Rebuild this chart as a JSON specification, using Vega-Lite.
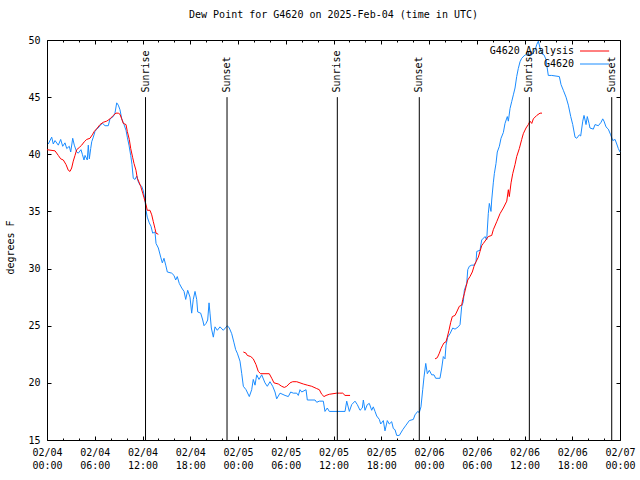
{
  "$schema": "https://vega.github.io/schema/vega-lite/v6.json",
  "width": 573,
  "height": 400,
  "autosize": {"type": "none"},
  "padding": {"left": 47, "top": 40, "right": 20, "bottom": 40},
  "background": "white",
  "title": {"text": "Dew Point for G4620 on 2025-Feb-04 (time in UTC)", "font": "DejaVu Sans Mono", "fontSize": 10, "fontWeight": "normal", "color": "black", "offset": 15, "anchor": "middle"},
  "config": {
    "view": {"stroke": "black", "strokeWidth": 1},
    "font": "DejaVu Sans Mono",
    "axis": {"grid": false, "domain": false, "tickColor": "black", "tickWidth": 1, "labelColor": "black", "labelFont": "DejaVu Sans Mono", "labelFontSize": 10, "titleFont": "DejaVu Sans Mono", "titleFontSize": 10, "titleFontWeight": "normal", "titleColor": "black"}
  },
  "datasets": {
    "obs": [
      {"h":0.16,"v":40.9},{"h":0.59,"v":41.5},{"h":0.79,"v":40.9},{"h":1.01,"v":41.2},{"h":1.42,"v":40.8},{"h":1.72,"v":41.3},{"h":1.97,"v":40.7},{"h":2.26,"v":41.0},{"h":2.48,"v":40.5},{"h":2.80,"v":40.7},{"h":2.98,"v":40.2},{"h":3.23,"v":41.4},{"h":3.43,"v":40.8},{"h":3.73,"v":40.2},{"h":3.93,"v":40.1},{"h":4.27,"v":40.4},{"h":4.44,"v":40.0},{"h":4.65,"v":39.5},{"h":4.78,"v":39.9},{"h":5.06,"v":39.5},{"h":5.19,"v":40.8},{"h":5.32,"v":39.6},{"h":5.49,"v":40.5},{"h":5.62,"v":41.1},{"h":5.82,"v":41.5},{"h":6.03,"v":42.0},{"h":6.25,"v":42.2},{"h":6.57,"v":42.4},{"h":6.75,"v":42.6},{"h":7.00,"v":42.7},{"h":7.29,"v":42.5},{"h":7.70,"v":42.5},{"h":7.92,"v":43.1},{"h":8.33,"v":43.3},{"h":8.54,"v":43.6},{"h":8.76,"v":44.5},{"h":8.96,"v":44.3},{"h":9.17,"v":43.9},{"h":9.39,"v":43.1},{"h":9.68,"v":42.6},{"h":9.93,"v":42.1},{"h":10.09,"v":41.5},{"h":10.30,"v":40.8},{"h":10.52,"v":39.9},{"h":10.68,"v":39.1},{"h":10.84,"v":37.9},{"h":11.06,"v":37.8},{"h":11.27,"v":38.1},{"h":11.47,"v":37.6},{"h":11.69,"v":37.3},{"h":11.90,"v":37.2},{"h":12.10,"v":36.8},{"h":12.31,"v":36.0},{"h":12.44,"v":35.1},{"h":12.60,"v":34.5},{"h":12.85,"v":34.0},{"h":13.07,"v":33.7},{"h":13.28,"v":33.1},{"h":13.57,"v":33.2},{"h":13.70,"v":32.2},{"h":13.99,"v":31.8},{"h":14.29,"v":31.0},{"h":14.49,"v":30.5},{"h":14.70,"v":30.9},{"h":14.92,"v":30.3},{"h":15.12,"v":29.7},{"h":15.67,"v":29.6},{"h":15.96,"v":29.4},{"h":16.17,"v":29.0},{"h":16.37,"v":29.3},{"h":16.62,"v":28.7},{"h":16.93,"v":28.3},{"h":17.22,"v":28.0},{"h":17.43,"v":27.3},{"h":17.68,"v":28.1},{"h":17.97,"v":27.5},{"h":18.18,"v":26.1},{"h":18.38,"v":27.3},{"h":18.60,"v":28.0},{"h":18.81,"v":27.3},{"h":18.94,"v":26.2},{"h":19.31,"v":26.1},{"h":19.57,"v":25.5},{"h":19.73,"v":25.0},{"h":19.98,"v":25.2},{"h":20.19,"v":25.5},{"h":20.36,"v":27.0},{"h":20.48,"v":26.1},{"h":20.65,"v":24.8},{"h":20.90,"v":24.0},{"h":21.11,"v":24.9},{"h":21.40,"v":24.6},{"h":21.74,"v":24.9},{"h":22.15,"v":24.6},{"h":22.66,"v":25.0},{"h":22.91,"v":24.8},{"h":23.21,"v":24.3},{"h":23.50,"v":23.5},{"h":23.71,"v":22.9},{"h":23.91,"v":22.6},{"h":24.25,"v":21.9},{"h":24.47,"v":20.8},{"h":24.67,"v":19.7},{"h":25.01,"v":19.4},{"h":25.42,"v":18.8},{"h":25.72,"v":19.4},{"h":25.92,"v":20.3},{"h":26.14,"v":19.8},{"h":26.35,"v":20.7},{"h":26.64,"v":20.3},{"h":26.98,"v":20.7},{"h":27.39,"v":20.0},{"h":27.68,"v":19.7},{"h":28.02,"v":20.1},{"h":28.36,"v":19.7},{"h":28.65,"v":19.2},{"h":28.86,"v":18.6},{"h":29.28,"v":19.1},{"h":29.91,"v":18.9},{"h":30.32,"v":18.8},{"h":30.62,"v":19.2},{"h":30.95,"v":19.1},{"h":31.38,"v":19.1},{"h":31.58,"v":18.9},{"h":31.79,"v":19.4},{"h":32.01,"v":19.2},{"h":32.55,"v":19.4},{"h":32.71,"v":18.5},{"h":33.68,"v":18.5},{"h":33.89,"v":18.3},{"h":34.22,"v":18.4},{"h":34.72,"v":18.4},{"h":34.93,"v":17.5},{"h":35.22,"v":17.8},{"h":35.47,"v":17.5},{"h":37.45,"v":17.5},{"h":37.66,"v":18.4},{"h":37.99,"v":17.5},{"h":38.29,"v":18.1},{"h":38.70,"v":18.4},{"h":38.99,"v":18.1},{"h":39.33,"v":17.6},{"h":39.62,"v":17.8},{"h":39.75,"v":18.5},{"h":39.96,"v":17.6},{"h":40.25,"v":18.1},{"h":40.50,"v":18.2},{"h":40.80,"v":17.6},{"h":41.00,"v":17.9},{"h":41.22,"v":17.5},{"h":41.43,"v":17.1},{"h":41.76,"v":16.8},{"h":41.93,"v":16.4},{"h":42.26,"v":16.7},{"h":42.47,"v":15.8},{"h":42.76,"v":16.7},{"h":43.01,"v":16.4},{"h":43.31,"v":16.6},{"h":43.52,"v":16.0},{"h":43.73,"v":15.9},{"h":43.94,"v":15.4},{"h":44.27,"v":15.4},{"h":44.70,"v":15.9},{"h":45.11,"v":16.3},{"h":45.53,"v":16.7},{"h":46.03,"v":16.8},{"h":46.24,"v":17.2},{"h":46.58,"v":17.5},{"h":46.78,"v":17.4},{"h":46.99,"v":17.9},{"h":47.21,"v":19.4},{"h":47.37,"v":20.5},{"h":47.59,"v":21.7},{"h":47.79,"v":20.8},{"h":48.04,"v":21.1},{"h":48.34,"v":20.7},{"h":48.63,"v":20.7},{"h":48.84,"v":20.4},{"h":49.38,"v":20.4},{"h":49.60,"v":21.3},{"h":49.80,"v":22.3},{"h":50.01,"v":22.1},{"h":50.14,"v":23.3},{"h":50.35,"v":24.0},{"h":50.64,"v":24.3},{"h":50.98,"v":24.8},{"h":51.27,"v":24.7},{"h":51.68,"v":24.9},{"h":51.90,"v":25.1},{"h":52.11,"v":26.7},{"h":52.31,"v":27.1},{"h":52.44,"v":28.1},{"h":52.74,"v":28.7},{"h":52.87,"v":29.9},{"h":53.07,"v":30.2},{"h":53.37,"v":30.3},{"h":53.66,"v":30.3},{"h":53.91,"v":30.6},{"h":54.00,"v":31.5},{"h":54.41,"v":31.6},{"h":54.62,"v":32.5},{"h":55.04,"v":32.8},{"h":55.25,"v":32.5},{"h":55.45,"v":34.8},{"h":55.58,"v":35.7},{"h":55.79,"v":35.0},{"h":55.88,"v":36.0},{"h":56.08,"v":37.5},{"h":56.21,"v":38.3},{"h":56.42,"v":39.2},{"h":56.58,"v":40.2},{"h":56.84,"v":40.7},{"h":57.05,"v":41.4},{"h":57.34,"v":41.9},{"h":57.55,"v":42.7},{"h":57.84,"v":43.3},{"h":57.97,"v":42.9},{"h":58.18,"v":44.0},{"h":58.39,"v":44.6},{"h":58.60,"v":45.2},{"h":58.81,"v":45.8},{"h":59.02,"v":46.8},{"h":59.22,"v":47.5},{"h":59.44,"v":48.1},{"h":59.65,"v":48.4},{"h":60.07,"v":48.7},{"h":60.91,"v":48.7},{"h":61.32,"v":49.1},{"h":61.54,"v":49.6},{"h":61.74,"v":49.9},{"h":61.95,"v":49.3},{"h":62.16,"v":48.8},{"h":62.45,"v":48.7},{"h":62.70,"v":48.3},{"h":62.99,"v":46.9},{"h":63.42,"v":46.9},{"h":64.38,"v":46.8},{"h":64.59,"v":46.1},{"h":64.88,"v":45.6},{"h":65.22,"v":45.0},{"h":65.51,"v":44.3},{"h":65.81,"v":43.3},{"h":66.06,"v":42.6},{"h":66.35,"v":41.5},{"h":66.56,"v":41.4},{"h":66.89,"v":41.7},{"h":67.06,"v":41.6},{"h":67.32,"v":42.9},{"h":67.48,"v":43.4},{"h":67.61,"v":43.0},{"h":67.73,"v":42.6},{"h":67.89,"v":43.3},{"h":68.11,"v":42.7},{"h":68.23,"v":42.3},{"h":68.65,"v":42.2},{"h":68.86,"v":42.6},{"h":69.28,"v":42.5},{"h":69.62,"v":42.8},{"h":69.83,"v":43.1},{"h":69.99,"v":42.9},{"h":70.24,"v":42.4},{"h":70.53,"v":42.2},{"h":70.83,"v":41.7},{"h":71.09,"v":41.2},{"h":71.38,"v":41.3},{"h":71.59,"v":40.9},{"h":71.79,"v":40.5},{"h":72.00,"v":40.2}
    ],
    "analysis": [
      {"seg":1,"h":0.00,"v":40.4},{"seg":1,"h":1.01,"v":40.3},{"seg":1,"h":1.42,"v":39.9},{"seg":1,"h":1.72,"v":39.6},{"seg":1,"h":2.05,"v":39.5},{"seg":1,"h":2.39,"v":39.1},{"seg":1,"h":2.68,"v":38.6},{"seg":1,"h":2.89,"v":38.5},{"seg":1,"h":3.10,"v":38.8},{"seg":1,"h":3.30,"v":39.4},{"seg":1,"h":3.52,"v":39.9},{"seg":1,"h":3.73,"v":40.4},{"seg":1,"h":4.06,"v":40.6},{"seg":1,"h":4.36,"v":40.8},{"seg":1,"h":4.69,"v":41.1},{"seg":1,"h":4.99,"v":41.3},{"seg":1,"h":5.40,"v":41.4},{"seg":1,"h":5.69,"v":41.7},{"seg":1,"h":5.94,"v":42.0},{"seg":1,"h":6.32,"v":42.3},{"seg":1,"h":6.66,"v":42.6},{"seg":1,"h":7.07,"v":42.8},{"seg":1,"h":7.50,"v":42.9},{"seg":1,"h":7.92,"v":43.1},{"seg":1,"h":8.33,"v":43.4},{"seg":1,"h":8.67,"v":43.6},{"seg":1,"h":8.96,"v":43.6},{"seg":1,"h":9.17,"v":43.5},{"seg":1,"h":9.39,"v":43.1},{"seg":1,"h":9.59,"v":42.7},{"seg":1,"h":9.93,"v":42.6},{"seg":1,"h":10.09,"v":42.0},{"seg":1,"h":10.34,"v":41.3},{"seg":1,"h":10.52,"v":40.5},{"seg":1,"h":10.77,"v":39.7},{"seg":1,"h":10.93,"v":39.2},{"seg":1,"h":11.18,"v":38.6},{"seg":1,"h":11.35,"v":37.9},{"seg":1,"h":11.60,"v":37.5},{"seg":1,"h":11.77,"v":37.2},{"seg":1,"h":12.03,"v":36.6},{"seg":1,"h":12.19,"v":36.2},{"seg":1,"h":12.44,"v":35.6},{"seg":1,"h":12.60,"v":35.1},{"seg":1,"h":12.94,"v":35.1},{"seg":1,"h":13.16,"v":34.7},{"seg":1,"h":13.36,"v":34.1},{"seg":1,"h":13.57,"v":33.5},{"seg":1,"h":13.70,"v":33.1},{"seg":1,"h":13.99,"v":33.0},
      {"seg":2,"h":24.67,"v":22.7},{"seg":2,"h":25.01,"v":22.6},{"seg":2,"h":25.17,"v":22.4},{"seg":2,"h":25.60,"v":22.3},{"seg":2,"h":25.92,"v":22.1},{"seg":2,"h":26.26,"v":21.6},{"seg":2,"h":26.55,"v":21.0},{"seg":2,"h":26.85,"v":20.8},{"seg":2,"h":27.93,"v":20.8},{"seg":2,"h":28.24,"v":20.4},{"seg":2,"h":28.52,"v":20.0},{"seg":2,"h":29.07,"v":19.9},{"seg":2,"h":29.49,"v":19.7},{"seg":2,"h":29.82,"v":19.6},{"seg":2,"h":30.12,"v":19.7},{"seg":2,"h":30.54,"v":20.0},{"seg":2,"h":30.87,"v":20.1},{"seg":2,"h":31.38,"v":20.1},{"seg":2,"h":31.79,"v":20.0},{"seg":2,"h":32.21,"v":19.9},{"seg":2,"h":32.71,"v":19.8},{"seg":2,"h":33.26,"v":19.7},{"seg":2,"h":33.89,"v":19.5},{"seg":2,"h":34.22,"v":19.4},{"seg":2,"h":34.52,"v":19.0},{"seg":2,"h":34.81,"v":18.8},{"seg":2,"h":35.06,"v":18.9},{"seg":2,"h":35.47,"v":19.0},{"seg":2,"h":36.40,"v":19.1},{"seg":2,"h":36.73,"v":19.1},{"seg":2,"h":37.16,"v":19.1},{"seg":2,"h":37.45,"v":18.9},{"seg":2,"h":38.08,"v":18.9},
      {"seg":3,"h":48.76,"v":22.1},{"seg":3,"h":49.04,"v":22.2},{"seg":3,"h":49.30,"v":22.6},{"seg":3,"h":49.51,"v":23.0},{"seg":3,"h":49.72,"v":23.3},{"seg":3,"h":49.89,"v":23.5},{"seg":3,"h":50.14,"v":23.6},{"seg":3,"h":50.30,"v":24.0},{"seg":3,"h":50.51,"v":24.6},{"seg":3,"h":50.73,"v":25.3},{"seg":3,"h":50.93,"v":25.8},{"seg":3,"h":51.27,"v":25.9},{"seg":3,"h":51.48,"v":26.2},{"seg":3,"h":51.81,"v":26.7},{"seg":3,"h":52.11,"v":26.8},{"seg":3,"h":52.24,"v":27.3},{"seg":3,"h":52.44,"v":27.8},{"seg":3,"h":52.65,"v":28.4},{"seg":3,"h":52.87,"v":29.0},{"seg":3,"h":53.15,"v":29.3},{"seg":3,"h":53.44,"v":29.7},{"seg":3,"h":53.66,"v":30.2},{"seg":3,"h":53.91,"v":30.6},{"seg":3,"h":54.20,"v":31.0},{"seg":3,"h":54.41,"v":31.5},{"seg":3,"h":54.62,"v":32.0},{"seg":3,"h":54.83,"v":32.2},{"seg":3,"h":55.45,"v":32.8},{"seg":3,"h":55.88,"v":32.9},{"seg":3,"h":56.08,"v":33.4},{"seg":3,"h":56.51,"v":34.1},{"seg":3,"h":56.92,"v":34.8},{"seg":3,"h":57.34,"v":35.3},{"seg":3,"h":57.77,"v":35.9},{"seg":3,"h":57.97,"v":36.9},{"seg":3,"h":58.09,"v":36.3},{"seg":3,"h":58.31,"v":37.5},{"seg":3,"h":58.52,"v":38.3},{"seg":3,"h":58.81,"v":39.1},{"seg":3,"h":59.02,"v":39.8},{"seg":3,"h":59.35,"v":40.5},{"seg":3,"h":59.65,"v":41.3},{"seg":3,"h":59.85,"v":41.8},{"seg":3,"h":60.19,"v":42.3},{"seg":3,"h":60.48,"v":42.6},{"seg":3,"h":60.69,"v":42.9},{"seg":3,"h":60.91,"v":42.7},{"seg":3,"h":61.11,"v":43.1},{"seg":3,"h":61.54,"v":43.4},{"seg":3,"h":61.95,"v":43.6},{"seg":3,"h":62.20,"v":43.6}
    ],
    "sun": [
      {"h":12.38,"event":"Sunrise"},{"h":22.62,"event":"Sunset"},{"h":36.48,"event":"Sunrise"},{"h":46.78,"event":"Sunset"},{"h":60.61,"event":"Sunrise"},{"h":70.96,"event":"Sunset"}
    ]
  },
  "layer": [
    {
      "data": {"name": "obs"},
      "mark": {"type": "line", "strokeWidth": 1},
      "encoding": {
        "x": {"field": "h", "type": "quantitative", "scale": {"domain": [0, 72], "nice": false, "zero": false},
              "axis": {"orient": "bottom", "title": null, "values": [0,6,12,18,24,30,36,42,48,54,60,66,72], "tickSize": -4, "labelPadding": 11, "labelBaseline": "top", "labelLineHeight": 13, "labelFlush": false, "labelOverlap": false,
                       "labelExpr": "['02/0' + (4 + floor(datum.value / 24)), (datum.value % 24 < 10 ? '0' : '') + (datum.value % 24) + ':00']"}},
        "y": {"field": "v", "type": "quantitative", "scale": {"domain": [15, 50], "nice": false, "zero": false},
              "axis": {"orient": "left", "title": "degrees F", "values": [15,20,25,30,35,40,45,50], "tickSize": -4, "labelPadding": 11, "labelFlush": false, "titleX": -37, "titleY": 207, "titleBaseline": "middle", "titleAlign": "center"}},
        "color": {"datum": "G4620", "type": "nominal",
                  "scale": {"domain": ["G4620 Analysis", "G4620"], "range": ["#ff0000", "#1a8cff"]},
                  "legend": {"orient": "none", "legendX": 542.6, "legendY": 6, "title": null, "symbolType": "M-5,0H5", "symbolSize": 34, "symbolStrokeWidth": 1, "symbolFillColor": "transparent", "symbolOpacity": 1, "labelAlign": "right", "labelOffset": -25.6, "labelFont": "DejaVu Sans Mono", "labelFontSize": 10, "labelColor": "black", "padding": 0, "rowPadding": 3}}
      }
    },
    {
      "data": {"name": "analysis"},
      "mark": {"type": "line", "strokeWidth": 1},
      "encoding": {
        "x": {"field": "h", "type": "quantitative", "scale": {"domain": [0, 72], "nice": false, "zero": false},
              "axis": {"orient": "bottom", "title": null, "values": [2,4,8,10,14,16,20,22,26,28,32,34,38,40,44,46,50,52,56,58,62,64,68,70], "tickSize": -2, "labels": false}},
        "y": {"field": "v", "type": "quantitative", "scale": {"domain": [15, 50], "nice": false, "zero": false},
              "axis": {"orient": "right", "title": null, "values": [15,20,25,30,35,40,45,50], "tickSize": -4, "labels": false}},
        "detail": {"field": "seg", "type": "nominal"},
        "color": {"datum": "G4620 Analysis", "type": "nominal"}
      }
    },
    {
      "data": {"name": "sun"},
      "mark": {"type": "rule", "color": "black", "strokeWidth": 1},
      "encoding": {
        "x": {"field": "h", "type": "quantitative", "scale": {"domain": [0, 72], "nice": false, "zero": false},
              "axis": {"orient": "top", "title": null, "values": [0,6,12,18,24,30,36,42,48,54,60,66,72], "tickSize": -4, "labels": false}},
        "y": {"datum": 45, "type": "quantitative", "axis": null},
        "y2": {"datum": 15}
      }
    },
    {
      "data": {"name": "sun"},
      "mark": {"type": "text", "angle": 270, "align": "left", "baseline": "middle", "font": "DejaVu Sans Mono", "fontSize": 10, "color": "black"},
      "encoding": {
        "x": {"field": "h", "type": "quantitative", "scale": {"domain": [0, 72], "nice": false, "zero": false},
              "axis": {"orient": "top", "title": null, "values": [2,4,8,10,14,16,20,22,26,28,32,34,38,40,44,46,50,52,56,58,62,64,68,70], "tickSize": -2, "labels": false}},
        "y": {"datum": 45.4, "type": "quantitative", "axis": null},
        "text": {"field": "event"}
      }
    }
  ],
  "resolve": {"axis": {"x": "independent", "y": "independent"}}
}
